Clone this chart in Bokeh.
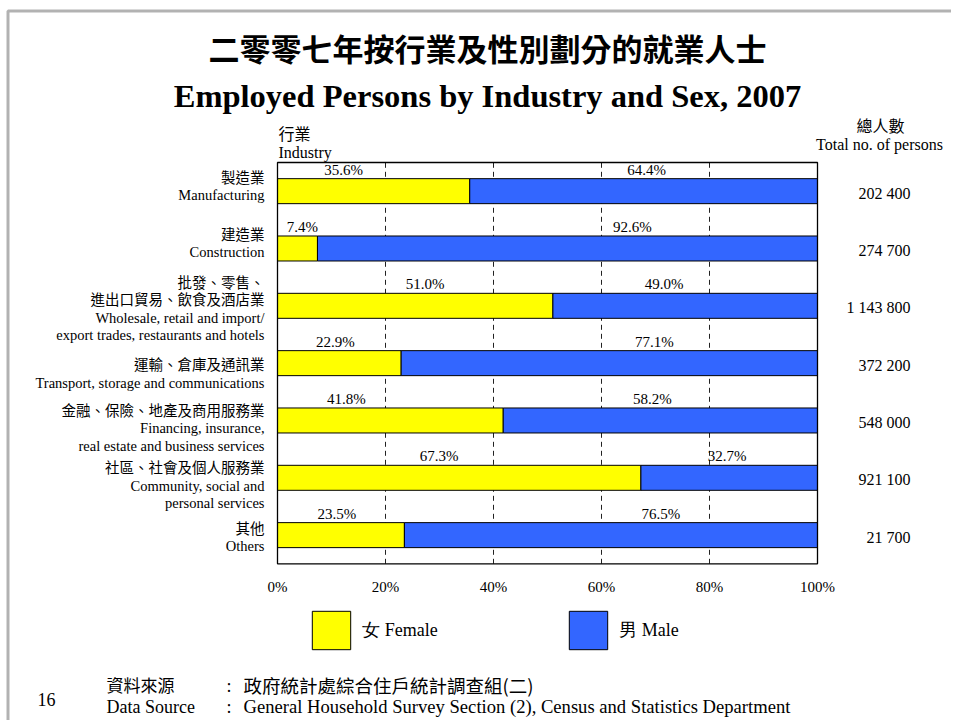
from bokeh.plotting import figure
from bokeh.models import ColumnDataSource, Range1d, FixedTicker, Label, BoxAnnotation
from bokeh.core.properties import value
from bokeh.embed import file_html
from bokeh.resources import INLINE

# ---------------- data ----------------
industry_key = ["Manufacturing", "Construction", "Wholesale", "Transport",
                "Financing", "Community", "Others"]
industry_zh = [["製造業"], ["建造業"], ["批發、零售、", "進出口貿易、飲食及酒店業"],
               ["運輸、倉庫及通訊業"], ["金融、保險、地產及商用服務業"],
               ["社區、社會及個人服務業"], ["其他"]]
industry_en = [["Manufacturing"], ["Construction"],
               ["Wholesale, retail and import/", "export trades, restaurants and hotels"],
               ["Transport, storage and communications"],
               ["Financing, insurance,", "real estate and business services"],
               ["Community, social and", "personal services"], ["Others"]]
female_pct = [35.6, 7.4, 51.0, 22.9, 41.8, 67.3, 23.5]
male_pct = [64.4, 92.6, 49.0, 77.1, 58.2, 32.7, 76.5]
total_persons = [202400, 274700, 1143800, 372200, 548000, 921100, 21700]
tick_values = [0, 20, 40, 60, 80, 100]
tick_labels = ["0%", "20%", "40%", "60%", "80%", "100%"]
series_labels = ["女 Female", "男 Male"]

# ---------------- styles / layout ----------------
FEMALE_COLOR = "#FFFF00"
MALE_COLOR = "#3366FF"
SERIF = "Liberation Serif"
CJK = "Noto Sans CJK TC"
W, H = 951, 720
PLOT_L, PLOT_R, PLOT_T, PLOT_B = 277.0, 817.0, 162.0, 563.3   # bar area on the page (px)
n = len(industry_key)
px_per_unit = (PLOT_R - PLOT_L) / 100.0
band = (PLOT_B - PLOT_T) / n
female_label_dx = [-30, 5, 10, -4, -44, -20, -4]   # px nudges of % labels
male_label_dx = [3, 65, -21, 45, -8, -2, 50]
first_line_dy = [-13.1, -13.7, -23.1, 2.1, -9.5, -9.5, -6.2]
line_step = 17.4
CJK_NUDGE = -1.5


def xd(px):
    return (px - PLOT_L) / px_per_unit


def yd(py):
    return (PLOT_B - py) / band


p = figure(width=W, height=H, output_backend="svg", toolbar_location=None,
           x_range=Range1d(xd(0), xd(W)), y_range=Range1d(yd(H), yd(0)),
           min_border=0)
p.outline_line_color = None
p.background_fill_color = "white"
p.border_fill_color = "white"

# category slot positions (top category first)
y_pos = [n - i - 0.5 for i in range(n)]

src = ColumnDataSource(dict(
    key=industry_key, y=y_pos, female=female_pct, male=male_pct,
    fx=[f / 2 for f in female_pct],
    mx=[f + m / 2 for f, m in zip(female_pct, male_pct)],
    fdx=female_label_dx, mdx=male_label_dx,
    ftext=[f"{f:.1f}%" for f in female_pct],
    mtext=[f"{m:.1f}%" for m in male_pct],
))

# dashed grid lines inside the bar area
grid_ticks = tick_values[1:-1]
p.segment(x0=grid_ticks, x1=grid_ticks, y0=[0] * len(grid_ticks), y1=[n] * len(grid_ticks),
          line_color="#222222", line_dash="5 4", line_width=1)

p.hbar_stack(["female", "male"], y="y", height=0.436, source=src,
             fill_color=[FEMALE_COLOR, MALE_COLOR], line_color="black",
             line_width=1, legend_label=series_labels)

# bar-area frame
p.quad(left=[tick_values[0]], right=[tick_values[-1]], bottom=[0], top=[n],
       fill_color=None, line_color="black", line_width=1.3)

for xcol, tcol, dcol in (("fx", "ftext", "fdx"), ("mx", "mtext", "mdx")):
    p.text(x=xcol, y="y", text=tcol, x_offset=dcol, y_offset=-21.5, source=src,
           text_align="center", text_baseline="middle",
           text_font=value(SERIF), text_font_size="15px", text_color="black")

# axes / grid
p.yaxis.visible = False
p.xgrid.grid_line_color = None
p.ygrid.grid_line_color = None
p.xaxis.fixed_location = 0
p.xaxis.ticker = FixedTicker(ticks=tick_values)
p.xaxis.major_label_overrides = {v: l for v, l in zip(tick_values, tick_labels)}
p.xaxis.axis_line_color = None
p.xaxis.major_tick_line_color = None
p.xaxis.minor_tick_line_color = None
p.xaxis.major_label_standoff = 9
p.xaxis.major_label_text_font = SERIF
p.xaxis.major_label_text_font_size = "15px"
p.xaxis.major_label_text_color = "black"

# legend (bar legend glyphs are drawn with a 10% inset)
GW = 47.5
lg = p.legend[0]
lg.orientation = "horizontal"
lg.location = (312 - GW * 0.1, H - (649.5 + GW * 0.1))
lg.glyph_width = int(round(GW))
lg.glyph_height = int(round(GW))
lg.label_standoff = 7
lg.label_width = 202
lg.spacing = 0
lg.padding = 0
lg.margin = 0
lg.border_line_color = None
lg.background_fill_alpha = 0
lg.label_text_font = SERIF
lg.label_text_font_size = "18px"
lg.label_text_color = "black"

# page border
p.add_layout(BoxAnnotation(left=xd(7.5), right=xd(W + 20), top=yd(10.5), bottom=yd(H + 20),
                           fill_alpha=0, line_color="black", line_width=3))


def add_text(text, px, py, font, size, align="left", bold=False):
    p.add_layout(Label(x=xd(px), y=yd(py), text=text, text_font=font,
                       text_font_size=f"{size}px", text_align=align,
                       text_baseline="middle", text_color="black",
                       text_font_style="bold" if bold else "normal"))


# category labels and totals
for i in range(n):
    cy = PLOT_T + band * (i + 0.5)
    lines = [(t, CJK) for t in industry_zh[i]] + [(t, SERIF) for t in industry_en[i]]
    for k, (t, f) in enumerate(lines):
        nudge = CJK_NUDGE if f == CJK else 0
        add_text(t, 264, cy + first_line_dy[i] + line_step * k + nudge, f, 14.5, align="right")
    add_text(f"{total_persons[i]:,}".replace(",", " "), 910, cy + 2, SERIF, 16, align="right")

# headers
add_text("二零零七年按行業及性別劃分的就業人士", 487, 47, CJK, 31, align="center", bold=True)
add_text("Employed Persons by Industry and Sex, 2007", 487, 95, SERIF, 32.5, align="center", bold=True)
add_text("行業", 278, 132, CJK, 16)
add_text("Industry", 278, 152, SERIF, 16)
add_text("總人數", 880, 124, CJK, 16, align="center")
add_text("Total no. of persons", 879, 143.5, SERIF, 16, align="center")

# footer
add_text("16", 37, 699, SERIF, 18)
add_text("資料來源", 106, 684, CJK, 17)
add_text(":", 226, 685, SERIF, 18)
add_text("政府統計處綜合住戶統計調查組(二)", 243, 684, CJK, 18.5)
add_text("Data Source", 106, 706, SERIF, 18)
add_text(":", 226, 706, SERIF, 18)
add_text("General Household Survey Section (2), Census and Statistics Department",
         243, 706, SERIF, 18.6)

open("out.html", "w").write(file_html(p, INLINE))
